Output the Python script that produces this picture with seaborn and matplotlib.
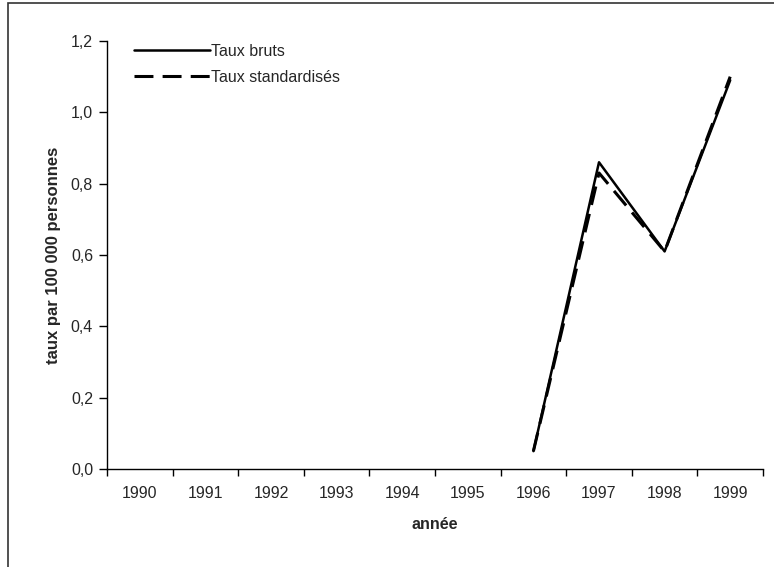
import numpy as np
import pandas as pd
import matplotlib
matplotlib.use("Agg")
import matplotlib.pyplot as plt
import seaborn as sns
from matplotlib.patches import Rectangle
from matplotlib.lines import Line2D

years = [1990, 1991, 1992, 1993, 1994, 1995, 1996, 1997, 1998, 1999]
taux_bruts = [np.nan, np.nan, np.nan, np.nan, np.nan, np.nan, 0.05, 0.86, 0.61, 1.09]
taux_std = [np.nan, np.nan, np.nan, np.nan, np.nan, np.nan, 0.05, 0.83, 0.61, 1.10]
series_names = ["Taux bruts", "Taux standardisés"]
yticks = [0.0, 0.2, 0.4, 0.6, 0.8, 1.0, 1.2]
ytick_labels = ["0,0", "0,2", "0,4", "0,6", "0,8", "1,0", "1,2"]

sns.set_style("white")
plt.rcParams['font.family'] = ['Liberation Sans', 'DejaVu Sans']

df = pd.DataFrame({
    "année": years * 2,
    "taux": taux_bruts + taux_std,
    "série": [series_names[0]] * len(years) + [series_names[1]] * len(years),
})

fig = plt.figure(figsize=(7.74, 5.67), dpi=100)
ax = fig.add_axes([107/774, 1-469/567, (763-107)/774, (469-41)/567])

fig.patches.append(Rectangle((8/774, -0.1), 2.0, (564/567)+0.1, transform=fig.transFigure,
                             fill=False, edgecolor="#333333", linewidth=1.2))

DASH = (6.2, 3.0)
sns.lineplot(data=df, x="année", y="taux", hue="série", style="série",
             palette=["black", "black"], dashes={series_names[0]: "", series_names[1]: DASH},
             ax=ax, legend=False, linewidth=2.0)
ax.lines[0].set_linewidth(1.8)
ax.lines[1].set_linewidth(2.2)

ax.set_xlim(1989.5, 1999.5)
ax.set_ylim(0, 1.2)
ax.set_yticks(yticks)
ax.set_yticklabels(ytick_labels, fontsize=11.5)
ax.set_xticks([y - 0.5 for y in years] + [1999.5])
ax.set_xticklabels([])
ax.set_xticks(years, minor=True)
ax.set_xticklabels([str(y) for y in years], minor=True, fontsize=11.5)
ax.tick_params(axis="x", which="major", direction="out", length=5, width=1, color="black", bottom=True)
ax.tick_params(axis="x", which="minor", length=0, pad=12)
ax.tick_params(axis="y", direction="out", length=6, width=1, color="black", left=True, pad=4)

for s in ["top", "right"]:
    ax.spines[s].set_visible(False)
for s in ["left", "bottom"]:
    ax.spines[s].set_color("black")
    ax.spines[s].set_linewidth(1.0)

ax.set_xlabel("année", fontsize=11.5, fontweight="bold", labelpad=12)
ax.set_ylabel("taux par 100 000 personnes", fontsize=12, fontweight="bold", labelpad=7)

handles = [Line2D([], [], color="black", lw=1.8),
           Line2D([], [], color="black", lw=2.2, dashes=DASH)]
ax.legend(handles, series_names, loc="upper left", bbox_to_anchor=(0.02, 1.027),
          frameon=False, handlelength=4.7, handletextpad=0.1, fontsize=11.5, labelspacing=0.7)

fig.savefig("out.png", dpi=100)
